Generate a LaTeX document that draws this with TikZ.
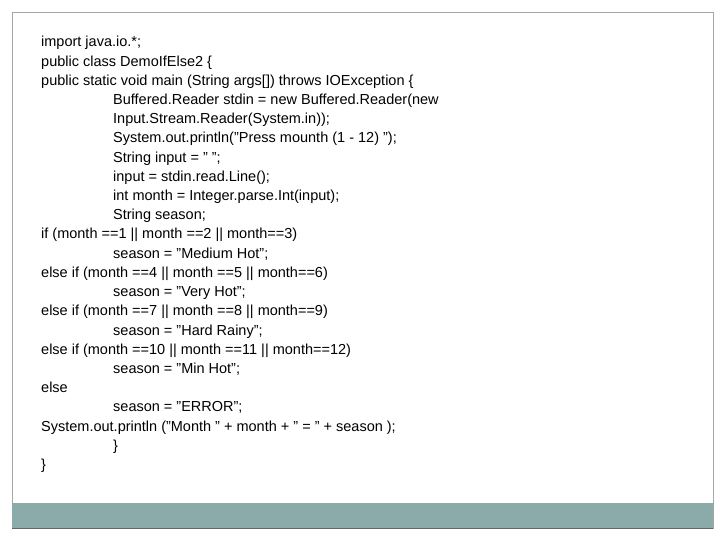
\documentclass[tikz,border=0pt]{standalone}
\usepackage{fontspec}
\setmainfont{Liberation Sans}
\usetikzlibrary{positioning}
\definecolor{barteal}{RGB}{139,171,171}
\tikzset{codeline/.style={anchor=base west,inner sep=0pt,font=\fontsize{14.5}{17}\selectfont}}
\begin{document}
\begin{tikzpicture}[x=1pt,y=-1pt]
\useasboundingbox (0,0) rectangle (720,540);
\draw[gray!70] (12,12) rectangle (713,528);
\fill[barteal] (12,503) rectangle (713,528);
\draw[gray!80!black] (12,528) -- (713,528);
% code lines
\node[codeline] (l1) at (41,47) {import java.io.*;};
\node[codeline] (l2) at (41,66.2) {public class DemoIfElse2 \{};
\node[codeline] (l3) at (41,85.4) {public static void main (String args[]) throws IOException \{};
\node[codeline] (l4) at (113,104.6) {Buffered.Reader stdin = new Buffered.Reader(new};
\node[codeline] (l5) at (113,123.8) {Input.Stream.Reader(System.in));};
\node[codeline] (l6) at (113,143) {System.out.println("Press mounth (1 - 12) ");};
\node[codeline] (l7) at (113,162.2) {String input = " ";};
\node[codeline] (l8) at (113,181.4) {input = stdin.read.Line();};
\node[codeline] (l9) at (113,200.6) {int month = Integer.parse.Int(input);};
\node[codeline] (l10) at (113,219.8) {String season;};
\node[codeline] (l11) at (41,239) {if (month ==1 || month ==2 || month==3)};
\node[codeline] (l12) at (113,258.2) {season = "Medium Hot";};
\node[codeline] (l13) at (41,277.4) {else if (month ==4 || month ==5 || month==6)};
\node[codeline] (l14) at (113,296.6) {season = "Very Hot";};
\node[codeline] (l15) at (41,315.8) {else if (month ==7 || month ==8 || month==9)};
\node[codeline] (l16) at (113,335) {season = "Hard Rainy";};
\node[codeline] (l17) at (41,354.2) {else if (month ==10 || month ==11 || month==12)};
\node[codeline] (l18) at (113,373.4) {season = "Min Hot";};
\node[codeline] (l19) at (41,392.6) {else};
\node[codeline] (l20) at (113,411.8) {season = "ERROR";};
\node[codeline] (l21) at (41,431) {System.out.println ("Month " + month + " = " + season );};
\node[codeline] (l22) at (113,450.2) {\}};
\node[codeline] (l23) at (41,469.4) {\}};
\end{tikzpicture}
\end{document}
